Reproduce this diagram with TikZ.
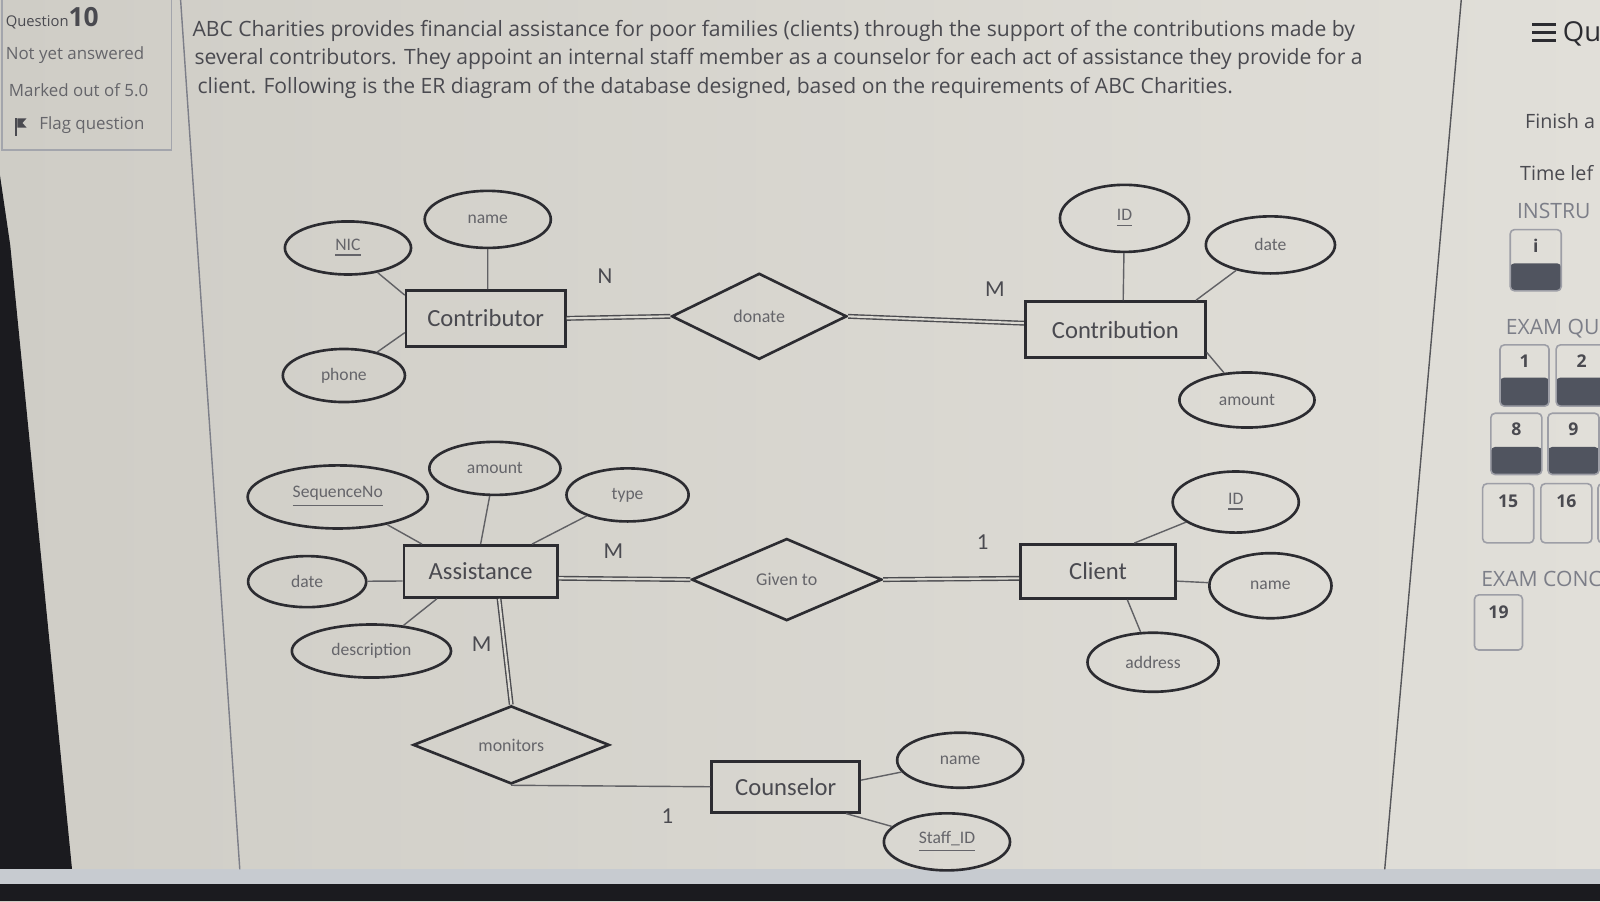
\documentclass[tikz,border=0pt]{standalone}
\usepackage{fontspec}
\setmainfont{Open Sans}
\newfontfamily\erfont{Carlito}
\usetikzlibrary{shapes.geometric}

\definecolor{screen}{HTML}{DCDAD3}
\definecolor{screenL}{HTML}{CFCDC6}
\definecolor{screenR}{HTML}{E1DFD9}
\definecolor{ink}{HTML}{2C2C31}
\definecolor{txt}{HTML}{4A4A50}
\definecolor{soft}{HTML}{7C7E88}
\definecolor{navdark}{HTML}{50545F}
\definecolor{bezel}{HTML}{1B1B1F}
\definecolor{strip}{HTML}{C7CBD0}

\tikzset{
	entity/.style={draw=ink, line width=0.75pt, rectangle, inner sep=0pt, text=txt, font=\erfont\fontsize{7}{8}\selectfont},
	attr/.style={draw=ink, line width=0.75pt, ellipse, inner sep=0pt, text=txt!85, font=\erfont\fontsize{5}{6}\selectfont},
	rel/.style={draw=ink, line width=0.75pt, diamond, inner sep=0pt, text=txt!85, font=\erfont\fontsize{5.1}{6}\selectfont},
	card/.style={text=txt, font=\erfont\fontsize{6.5}{7}\selectfont},
	link/.style={draw=ink!75, line width=0.4pt},
	total/.style={draw=ink!85, double=screen, double distance=0.6pt, line width=0.4pt},
	para/.style={anchor=west, inner sep=0pt, text=txt, font=\fontsize{6}{7}\selectfont},
	side/.style={anchor=west, inner sep=0pt, text=txt!85, font=\fontsize{4.8}{5}\selectfont},
	navtxt/.style={anchor=west, inner sep=0pt, text=txt, font=\fontsize{5.6}{6}\selectfont},
	navhead/.style={anchor=west, inner sep=0pt, text=soft, font=\fontsize{6}{7}\selectfont},
	navbox/.style={draw=soft!75, line width=0.45pt, rounded corners=1.2pt},
	navnum/.style={inner sep=0pt, text=txt, font=\bfseries\fontsize{5}{6}\selectfont},
}

\begin{document}
\begin{tikzpicture}[x=0.0102cm,y=-0.0102cm]
	\clip (0,0) rectangle (1568,883);
	
	%screen
	\shade[left color=screenL, right color=screenR] (0,0) rectangle (1568,883);
	\fill[bezel] (0,172) -- (10,240) -- (72,866) -- (0,866) -- cycle;
	\fill[strip] (0,852) rectangle (1568,866);
	\fill[bezel] (0,866) rectangle (1568,883);
	\draw[soft, line width=0.4pt] (177,0) -- (235,852);
	\draw[ink!80, line width=0.4pt] (1432,0) -- (1357,852);
	
	%question info
	\draw[soft!70, line width=0.5pt] (2,-3) rectangle (168,147);
	\node[anchor=base west, inner sep=0pt, text=txt] (qno) at (5,26) {\fontsize{4.2}{5}\selectfont Question\fontsize{7.5}{8}\selectfont\bfseries 10};
	\node[side] (qstate) at (5,54) {Not yet answered};
	\node[side] (qmark) at (8,88) {Marked out of 5.0};
	\node[side] (qflag) at (38,123) {Flag question};
	\fill[txt] (15,116) rectangle (17,133);
	\fill[txt] (17,116) -- (26,116) -- (22,120.5) -- (26,125) -- (17,125) -- cycle;
	
	%question text
	\node[para] (line1) at (188,30) {ABC Charities provides financial assistance for poor families (clients) through the support of the contributions made by};
	\node[para] (line2) at (190,58) {several contributors. They appoint an internal staff member as a counselor for each act of assistance they provide for a};
	\node[para] (line3) at (193,86) {client. Following is the ER diagram of the database designed, based on the requirements of ABC Charities.};
	
	%entities
	\node[entity, minimum width=1.59cm, minimum height=0.56cm] (contr) at (476,312) {Contributor};
	\node[entity, minimum width=1.80cm, minimum height=0.56cm] (cbn) at (1093,323) {Contribution};
	\node[entity, minimum width=1.53cm, minimum height=0.52cm] (asst) at (471,560) {Assistance};
	\node[entity, minimum width=1.55cm, minimum height=0.54cm] (cli) at (1076,560) {Client};
	\node[entity, minimum width=1.48cm, minimum height=0.51cm] (cou) at (770,771) {Counselor};
	
	%relationships
	\node[rel, minimum width=1.75cm, minimum height=0.86cm] (don) at (744,310) {donate};
	\node[rel, minimum width=1.90cm, minimum height=0.82cm] (giv) at (771,568) {Given to};
	\node[rel, minimum width=1.96cm, minimum height=0.78cm] (mon) at (501,730) {monitors};
	
	%attributes
	\node[attr, minimum width=1.26cm, minimum height=0.53cm] (nic) at (341,243) {\underline{NIC}};
	\node[attr, minimum width=1.26cm, minimum height=0.57cm] (cname) at (478,215) {name};
	\node[attr, minimum width=1.22cm, minimum height=0.53cm] (phone) at (337,368) {phone};
	\node[attr, minimum width=1.29cm, minimum height=0.67cm] (cid) at (1102,214) {\underline{ID}};
	\node[attr, minimum width=1.29cm, minimum height=0.57cm] (cdate) at (1245,240) {date};
	\node[attr, minimum width=1.35cm, minimum height=0.55cm] (camt) at (1222,392) {amount};
	\node[attr, minimum width=1.31cm, minimum height=0.53cm] (aamt) at (485,459) {amount};
	\node[attr, minimum width=1.80cm, minimum height=0.63cm] (seq) at (331,487) {\underline{SequenceNo}};
	\node[attr, minimum width=1.22cm, minimum height=0.53cm] (atype) at (615,485) {type};
	\node[attr, minimum width=1.18cm, minimum height=0.51cm] (adate) at (301,570) {date};
	\node[attr, minimum width=1.59cm, minimum height=0.53cm] (adesc) at (364,638) {description};
	\node[attr, minimum width=1.26cm, minimum height=0.61cm] (lid) at (1211,492) {\underline{ID}};
	\node[attr, minimum width=1.22cm, minimum height=0.65cm] (lname) at (1245,574) {name};
	\node[attr, minimum width=1.31cm, minimum height=0.59cm] (laddr) at (1130,649) {address};
	\node[attr, minimum width=1.26cm, minimum height=0.55cm] (sname) at (941,745) {name};
	\node[attr, minimum width=1.26cm, minimum height=0.57cm] (sid) at (928,825) {\underline{Staff\_ID}};
	
	%attribute links
	\draw[link] (nic) -- (contr.164);
	\draw[link] (cname) -- (contr.86);
	\draw[link] (phone) -- (contr.190);
	\draw[link] (cid) -- (cbn.75);
	\draw[link] (cdate) -- (cbn.20);
	\draw[link] (camt) -- (cbn.-14);
	\draw[link] (seq) -- (asst.155);
	\draw[link] (aamt) -- (asst.north);
	\draw[link] (atype) -- (asst.28);
	\draw[link] (adate) -- (asst.187);
	\draw[link] (adesc) -- (asst.212);
	\draw[link] (lid) -- (cli.38);
	\draw[link] (lname) -- (cli.-7);
	\draw[link] (laddr) -- (cli.-44);
	\draw[link] (sname) -- (cou.5);
	\draw[link] (sid) -- (cou.-24);
	
	%relationship links
	\draw[total] (contr.east) -- (don.west);
	\draw[total] (don.east) -- (cbn.176);
	\draw[total] (asst.-5) -- (giv.west);
	\draw[total] (giv.east) -- (cli.185);
	\draw[total] (asst.-56) -- (mon.north);
	\draw[link] (mon.south) -- (cou.west);
	
	%cardinalities
	\node[card] (cardN) at (593,271) {N};
	\node[card] (cardM1) at (975,283) {M};
	\node[card] (cardM2) at (601,540) {M};
	\node[card] (cardO1) at (963,531) {1};
	\node[card] (cardM3) at (472,631) {M};
	\node[card] (cardO2) at (654,800) {1};
	
	%quiz navigation
	\foreach \y in {24,32,40} \fill[ink] (1501,\y-1.6) rectangle (1525,\y+1.6);
	\node[anchor=west, inner sep=0pt, text=ink, font=\fontsize{7.8}{9}\selectfont] (navtitle) at (1531,33) {Qu};
	\node[navtxt] (finish) at (1494,119) {Finish a};
	\node[navtxt] (timeleft) at (1489,170) {Time lef};
	\node[navhead] (instr) at (1486,207) {INSTRU};
	\node[navhead] (examq) at (1475,322) {EXAM QU};
	\node[navhead] (examc) at (1451,567) {EXAM CONC};
	
	\foreach \x/\y/\w/\h/\dk/\lab in {1480/225/50/60/33/i, 1470/338/48/60/32/1, 1525/338/50/60/32/2, 1461/405/50/60/33/8, 1517/405/50/60/33/9}{
		\fill[navdark, rounded corners=1.2pt] (\x,\y+\dk) rectangle (\x+\w,\y+\h);
		\draw[navbox] (\x,\y) rectangle (\x+\w,\y+\h);
		\node[navnum] at (\x+\w/2,\y+16) {\lab};
	}
	\foreach \x/\y/\w/\h/\lab in {1453/474/50/58/15, 1510/474/50/58/16, 1445/583/47/54/19}{
		\draw[navbox] (\x,\y) rectangle (\x+\w,\y+\h);
		\node[navnum] at (\x+\w/2,\y+17) {\lab};
	}
	\draw[navbox] (1566,474) rectangle (1600,532);
\end{tikzpicture}
\end{document}
